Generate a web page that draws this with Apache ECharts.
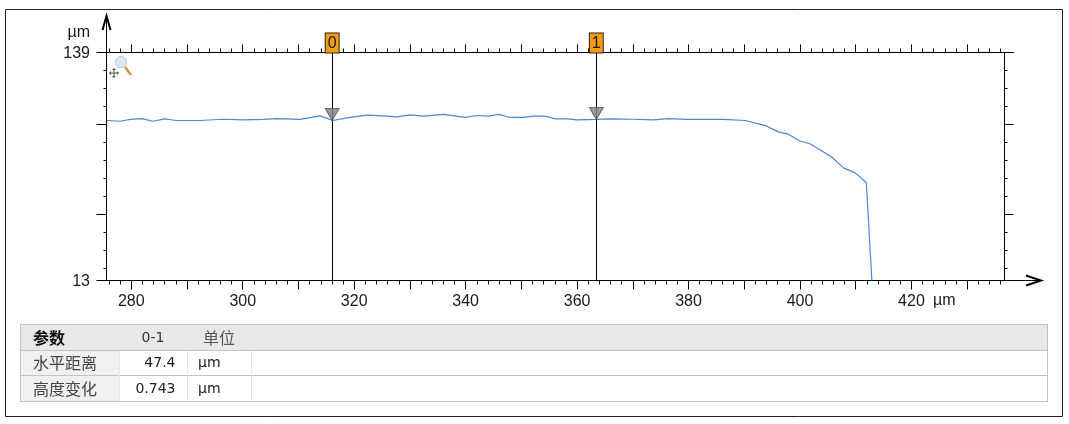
<!DOCTYPE html>
<html><head><meta charset="utf-8">
<style>html,body{margin:0;padding:0;background:#fff}#c{width:1069px;height:424px}</style>
<script src="https://cdn.jsdelivr.net/npm/echarts@6/dist/echarts.min.js"></script>
</head><body><div id="c"></div>
<script>
const profileX = [275.6,278.0,279.8,281.9,283.9,286.0,288.1,292.3,296.5,300.1,303.7,306.1,310.3,313.9,316.1,319.3,322.3,325.2,327.6,330.0,332.4,336.0,339.9,342.0,344.1,346.0,348.0,350.4,352.2,354.3,356.1,358.2,360.0,363.5,365.9,370.1,373.7,376.4,379.7,386.3,390.2,393.8,396.1,397.9,400.0,401.8,405.7,407.8,409.9,411.9,412.9];
const profileY = [102.2,101.8,102.8,103.3,101.8,103.1,102.2,102.2,102.9,102.6,102.8,103.3,102.8,104.8,102.2,103.9,105.2,104.8,104.2,105.3,104.6,105.6,103.9,105.0,104.6,105.6,103.9,103.9,104.6,104.6,103.1,103.1,102.6,102.8,103.1,102.9,102.6,103.3,102.8,102.8,102.2,99.4,95.9,94.6,90.8,89.3,81.9,75.9,73.1,67.8,13.3];
const cursorNames = ['0','1'];
const cursorX = [316.05,363.45];
const cursorY = [102.2,102.8];
const xLabels = [280,300,320,340,360,380,400,420];
const xMajor = [280,290,300,310,320,330,340,350,360,370,380,390,400,410,420,430];
const xMinor = [276,278,282,284,286,288,292,294,296,298,302,304,306,308,312,314,316,318,322,324,326,328,332,334,336,338,342,344,346,348,352,354,356,358,362,364,366,368,372,374,376,378,382,384,386,388,392,394,396,398,402,404,406,408,412,414,416,418,422,424,426,428,432,434,436];
const yMinor = [20,30,40,60,70,80,90,110,120,130];
const yMajor = [50,100];
const xMin = 275.55, xMax = 436.7, yMin = 13.3, yMax = 140;
const yEndLabels = ['13','139'];
const tableHead = ['参数','0-1','单位'];
const tableRows = [['水平距离','47.4','µm'],['高度变化','0.743','µm']];

const LAT = '"Liberation Sans",Arial,sans-serif', INK = '#1a1a1a';
const base = {min:xMin,max:xMax,type:'value',splitLine:{show:false},axisLine:{onZero:false,lineStyle:{color:'#000',width:1}}};
const xAxis = [
  {...base,position:'bottom',axisLabel:{show:false},axisTick:{length:4,customValues:xMinor,lineStyle:{color:'#000'}}},
  {...base,position:'bottom',axisTick:{length:9,customValues:xMajor,lineStyle:{color:'#000'}},
    axisLabel:{customValues:xLabels,margin:13,color:INK,fontFamily:LAT,fontSize:16}},
  {...base,position:'top',axisLabel:{show:false},axisTick:{length:4,customValues:xMinor,lineStyle:{color:'#000'}}},
  {...base,position:'top',axisLabel:{show:false},axisTick:{length:8,customValues:xMajor,lineStyle:{color:'#000'}}}
];
const yb = {...base,min:yMin,max:yMax};
const yAxis = [
  {...yb,position:'left',axisLabel:{show:false},axisTick:{length:3,customValues:yMinor,lineStyle:{color:'#000'}}},
  {...yb,position:'left',axisLabel:{show:false},axisTick:{length:10,customValues:[yMin,...yMajor,yMax],lineStyle:{color:'#000'}}},
  {...yb,position:'right',axisLabel:{show:false},axisTick:{length:3,customValues:yMinor,lineStyle:{color:'#000'}}},
  {...yb,position:'right',axisLabel:{show:false},axisTick:{length:9,customValues:[yMax,...yMajor],lineStyle:{color:'#000'}}}
];

const g = [];
const rect=(x,y,w,h,fill,stroke)=>g.push({type:'rect',silent:true,z:1,shape:{x,y,width:w,height:h},style:{fill:fill||'none',stroke:stroke||'none',lineWidth:1}});
const line=(a,b,c,d,color,w,z)=>g.push({type:'line',silent:true,z:z||1,shape:{x1:a,y1:b,x2:c,y2:d},style:{stroke:color,lineWidth:w||1}});
const text=(x,y,t,o)=>g.push({type:'text',silent:true,z:5,x,y,style:Object.assign({text:t,fill:INK,font:'16px '+LAT,verticalAlign:'middle'},o||{})});
rect(5.5,9.5,1057,407,null,'#222');
// axis arrows
line(106.5,52,106.5,17,'#000',1,6);
g.push({type:'polyline',silent:true,z:6,shape:{points:[[102.5,30],[106.5,16],[110.5,30]]},style:{stroke:'#000',fill:'none',lineWidth:2}});
line(1004.5,280.5,1041,280.5,'#000',1,6);
g.push({type:'polyline',silent:true,z:6,shape:{points:[[1026,275.5],[1041,280.5],[1026,285.5]]},style:{stroke:'#000',fill:'none',lineWidth:2}});
line(1004.5,52.5,1014,52.5,'#000',1,6);
text(90,33,'µm',{align:'right'});
text(90,53.5,yEndLabels[1],{align:'right'});
text(90,281.5,yEndLabels[0],{align:'right'});
text(933,300.5,'µm',{align:'left'});
// zoom/pan icon
g.push({type:'circle',silent:true,z:6,shape:{cx:121,cy:62,r:5.5},style:{fill:'#dbe8f5',stroke:'#b8c4d0',lineWidth:1}});
line(125,67,131,75,'#c89a3c',2.5,6);
line(109,73,119,73,'#555',1,6); line(114,68,114,78,'#555',1,6);
line(110.5,71.5,110.5,74.5,'#555',1,6); line(117.5,71.5,117.5,74.5,'#555',1,6);
line(112.5,69.5,115.5,69.5,'#555',1,6); line(112.5,76.5,115.5,76.5,'#555',1,6);
// table
const T={x1:[119.5,187.5,251.5],ys:[324.5,350.5,375.5,401.5]};
rect(20.5,324.5,1027,26,'#e8e8e8');
rect(20.5,350.5,99,51,'#f0f0f0');
for(const y of T.ys) line(20,y,1048,y,'#c2c2c2');
line(20.5,324,20.5,402,'#c2c2c2'); line(1047.5,324,1047.5,402,'#c2c2c2');
for(const x of T.x1) line(x,350.5,x,401.5,'#e6e6e6');
const CJK='"Noto Sans CJK SC",sans-serif', DJ='"DejaVu Sans",sans-serif';
text(33,337.5,tableHead[0],{font:'bold 16px '+CJK,fill:'#111'});
text(153,338,tableHead[1],{font:'14px '+DJ,align:'center',fill:'#333'});
text(219,337.5,tableHead[2],{font:'16px '+CJK,align:'center',fill:'#555'});
tableRows.forEach((r,i)=>{
  const y=[363,389][i];
  text(33,y,r[0],{font:'16px '+CJK,fill:'#444'});
  text(175.5,y,r[1],{font:'14px '+DJ,align:'right',fill:'#222'});
  text(198,y,r[2],{font:'14px '+DJ,fill:'#222'});
});

const chart = echarts.init(document.getElementById('c'),null,{renderer:'canvas'});
chart.setOption({
  animation:false,backgroundColor:'#fff',
  grid:{left:106.5,right:1069-1004.5,top:52.5,bottom:424-280.5,show:false},
  xAxis,yAxis,graphic:g,
  series:[
    {type:'line',xAxisIndex:0,yAxisIndex:0,showSymbol:false,z:3,silent:true,
     data:profileX.map((x,i)=>[x,profileY[i]]),
     lineStyle:{color:'#4a86dc',width:1.2},
     markLine:{silent:true,symbol:'none',z:8,animation:false,
       lineStyle:{color:'#000',width:1,type:'solid'},
       label:{show:true,position:'end',distance:0,formatter:p=>p.name,color:'#1a1a1a',fontFamily:LAT,fontSize:16,
         backgroundColor:'#f59c10',borderColor:'#222',borderWidth:1,padding:[2,2,1,2],lineHeight:16},
       data:cursorX.map((x,i)=>({name:cursorNames[i],xAxis:x}))}},
    {type:'scatter',xAxisIndex:0,yAxisIndex:0,z:9,silent:true,
     symbol:'path://M0 0L14 0L7 12Z',symbolSize:[14,12],symbolOffset:[0,-6],
     itemStyle:{color:'#808080',borderColor:'#555',borderWidth:1},
     data:cursorX.map((x,i)=>[x,cursorY[i]])}
  ]
});
</script></body></html>
